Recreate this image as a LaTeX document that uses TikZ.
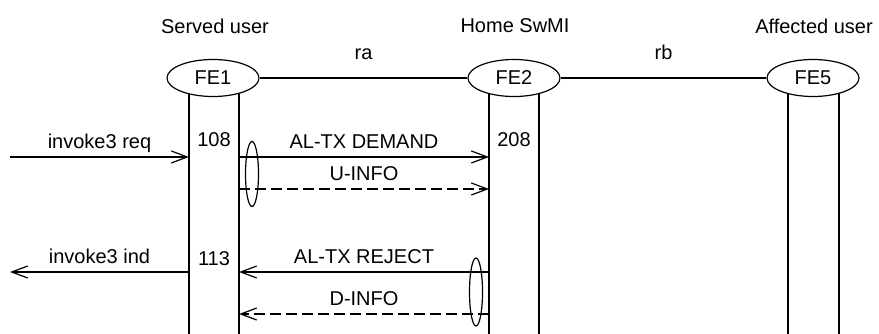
\documentclass[tikz,border=0pt]{standalone}
\usepackage{fontspec}
\setmainfont{Liberation Sans}
\usepackage{tikz}
\usetikzlibrary{arrows.meta,shapes.geometric}

\begin{document}
\begin{tikzpicture}[x=1pt,y=-1pt,line width=1.2pt,
  fe/.style={draw,ellipse,fill=white,minimum width=92pt,minimum height=37pt,inner sep=0pt},
  msg/.style={-{Straight Barb[length=16pt,width=12pt,line width=1.2pt]}},
  dmsg/.style={msg,dash pattern=on 11pt off 5pt},
  lbl/.style={above,inner sep=4pt,text height=15pt,text depth=4pt},
  grp/.style={draw,ellipse,minimum width=13pt,inner sep=0pt},
  font=\fontsize{20}{24}\selectfont]
\useasboundingbox (0,0) rectangle (879,334);

% lifelines
\foreach \x/\name in {189/s1, 239/s2, 489/h1, 539/h2, 788/a1, 839/a2}{
  \coordinate (\name) at (\x,334);
  \draw (\name) -- (\x,80);
}

\node[fe] (fe1) at (213,78) {FE1};
\node[fe] (fe2) at (514,78) {FE2};
\node[fe] (fe5) at (813,78) {FE5};

\node (served) at (215,26) {Served user};
\node (home) at (515,26) {Home SwMI};
\node (affected) at (814,26) {Affected user};

\draw (fe1) -- node[above=14pt] (ra) {ra} (fe2);
\draw (fe2) -- node[above=14pt] (rb) {rb} (fe5);

\coordinate (req) at (10,157);
\coordinate (uinfo) at (239,189);
\coordinate (ind) at (10,272);
\coordinate (dinfo) at (239,314);

\draw[msg] (req) -- node[lbl] (reqlbl) {invoke3 req} (req -| s1);
\draw[msg] (req -| s2) -- node[lbl] (demand) {AL-TX DEMAND} (req -| h1);
\draw[dmsg] (uinfo) -- node[lbl] (ulbl) {U-INFO} (uinfo -| h1);

\draw[msg] (ind -| s1) -- node[lbl] (indlbl) {invoke3 ind} (ind);
\draw[msg] (ind -| h1) -- node[lbl] (reject) {AL-TX REJECT} (ind -| s2);
\draw[dmsg] (dinfo -| h1) -- node[lbl] (dlbl) {D-INFO} (dinfo);

\node (n108) at (214,140) {108};
\node (n208) at (514,140) {208};
\node (n113) at (214,259) {113};

\node[grp,minimum height=65pt] (g1) at (252,174) {};
\node[grp,minimum height=68pt] (g2) at (476,292) {};

\end{tikzpicture}
\end{document}
